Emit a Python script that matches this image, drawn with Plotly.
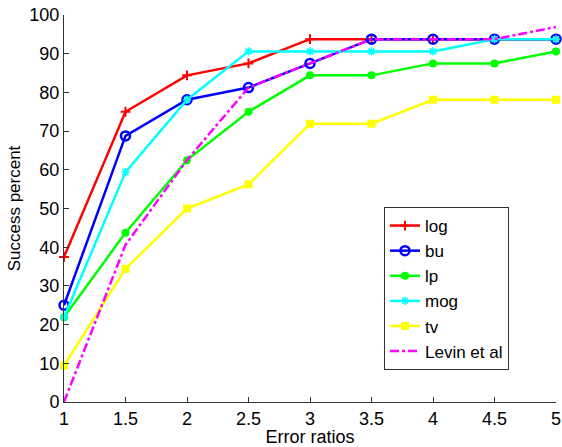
import plotly.graph_objects as go

x = [1, 1.5, 2, 2.5, 3, 3.5, 4, 4.5, 5]
log_v = [37.5, 75, 84.4, 87.5, 93.75, 93.75, 93.75, 93.75, 93.75]
bu_v = [25, 68.75, 78.1, 81.25, 87.5, 93.75, 93.75, 93.75, 93.75]
lp_v = [21.9, 43.75, 62.5, 75, 84.4, 84.4, 87.5, 87.5, 90.6]
mog_v = [21.9, 59.4, 78.1, 90.6, 90.6, 90.6, 90.6, 93.75, 93.75]
tv_v = [9.4, 34.4, 50, 56.25, 71.9, 71.9, 78.1, 78.1, 78.1]
levin_v = [0, 40.6, 62.5, 81.25, 87.5, 93.75, 93.75, 93.75, 96.9]

xticks = [1, 1.5, 2, 2.5, 3, 3.5, 4, 4.5, 5]
yticks = [0, 10, 20, 30, 40, 50, 60, 70, 80, 90, 100]

fig = go.Figure()
series = [
    ("log", log_v, "#ff0000", dict(symbol="cross-thin-open", size=7, line=dict(width=2, color="#ff0000"))),
    ("bu", bu_v, "#0000ff", dict(symbol="circle-open", size=9, line=dict(width=2.5, color="#0000ff"))),
    ("lp", lp_v, "#00ff00", dict(symbol="circle", size=8, color="#00ff00")),
    ("mog", mog_v, "#00ffff", dict(symbol="asterisk-open", size=7, line=dict(width=1.5, color="#00ffff"))),
    ("tv", tv_v, "#ffff00", dict(symbol="square", size=8, color="#ffff00")),
]
for name, vals, col, mk in series:
    fig.add_trace(go.Scatter(x=x, y=vals, name=name, mode="lines+markers",
                             line=dict(color=col, width=2.5), marker=mk, cliponaxis=False))
fig.add_trace(go.Scatter(x=x, y=levin_v, name="Levin et al", mode="lines",
                         line=dict(color="#ff00ff", width=2.5, dash="dashdot"), cliponaxis=False))

font = "Liberation Sans, Arial, sans-serif"
L, R, T, B = 64, 6, 15, 45
pw, ph = 562 - L - R, 447 - T - B
fig.update_layout(
    width=562, height=447,
    margin=dict(l=L, r=R, t=T, b=B),
    paper_bgcolor="white", plot_bgcolor="white",
    font=dict(family=font, size=18, color="black"),
    showlegend=True,
    legend=dict(x=(384 - L) / pw, y=(447 - B - 207) / ph, xanchor="left", yanchor="top",
                bgcolor="white", bordercolor="#333", borderwidth=1,
                font=dict(family=font, size=17), tracegroupgap=0, itemwidth=30),
)
fig.update_xaxes(range=[1, 5], tickvals=xticks, ticktext=[str(v) for v in xticks],
                 ticks="inside", ticklen=5, tickcolor="#333", showline=True, linecolor="#333",
                 linewidth=1, showgrid=False, zeroline=False, mirror=False, automargin=False,
                 title=dict(text="Error ratios", standoff=0, font=dict(size=18)),
                 tickfont=dict(size=18))
fig.update_yaxes(range=[0, 100], tickvals=yticks,
                 ticks="inside", ticklen=5, tickcolor="#333", showline=True, linecolor="#333",
                 linewidth=1, showgrid=False, zeroline=False, mirror=False, automargin=False,
                 title=dict(text="Success percent", standoff=4, font=dict(size=17)),
                 tickfont=dict(size=18))
fig.write_html("out.html", config={"displayModeBar": False},
               post_script="document.body.style.margin='0';document.body.style.overflow='hidden';")
